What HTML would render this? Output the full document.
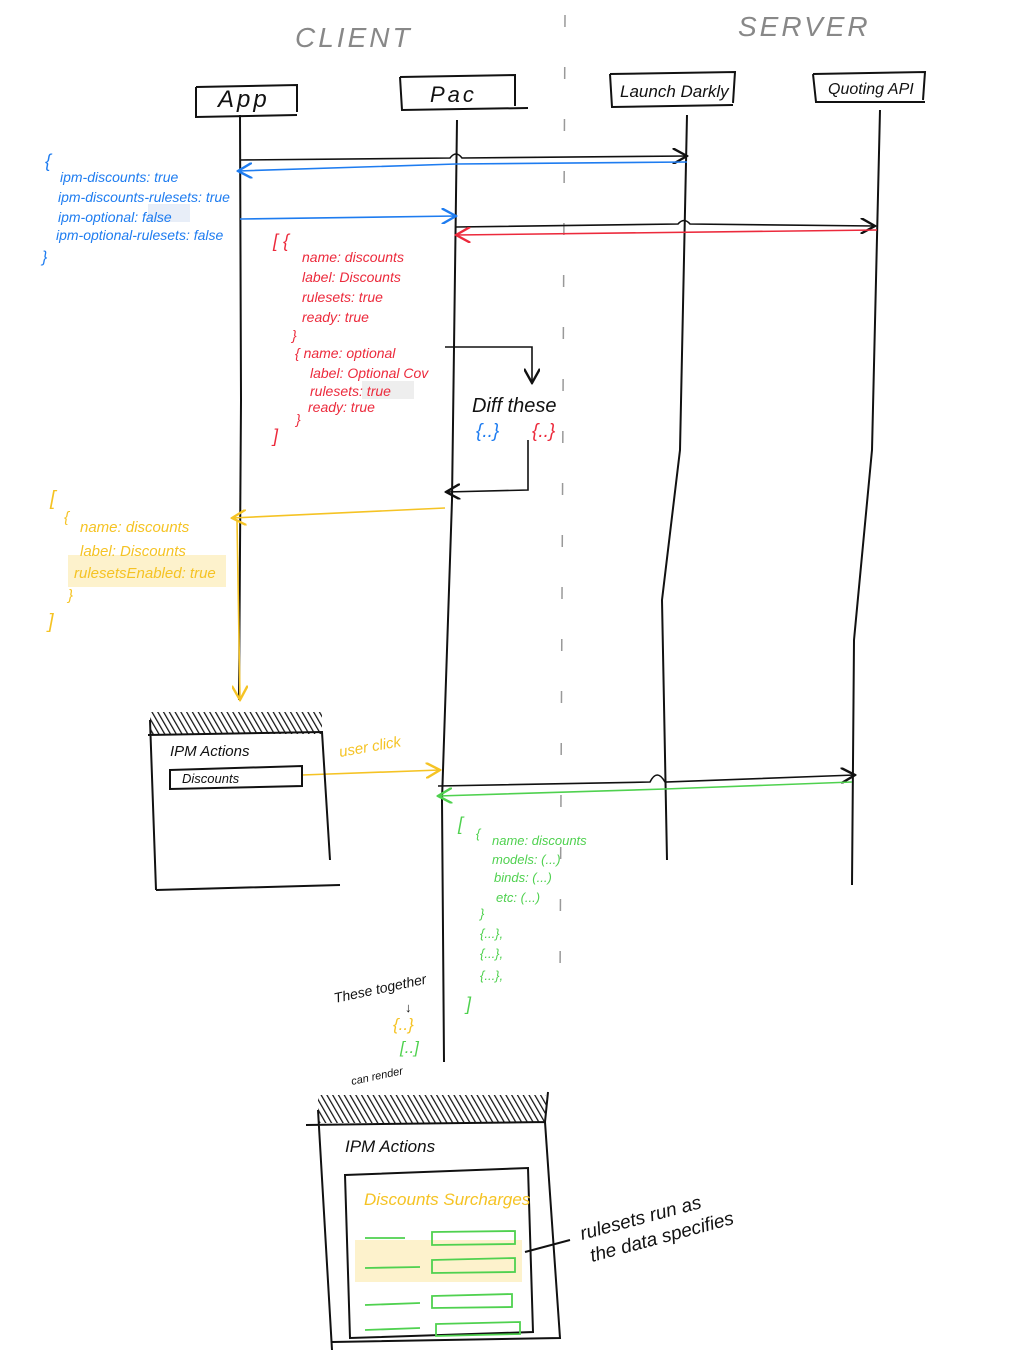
<!DOCTYPE html>
<html><head><meta charset="utf-8"><style>
html,body{margin:0;padding:0;background:#fff;width:1016px;height:1366px;overflow:hidden}
svg{display:block}
text{font-family:"Liberation Sans",sans-serif;font-style:italic}
.k{fill:#111}.b{fill:#1e7cf0}.r{fill:#ec2a3c}.y{fill:#f5c324}.g{fill:#4fd14f}
</style></head><body>
<svg width="1016" height="1366" viewBox="0 0 1016 1366" xmlns="http://www.w3.org/2000/svg">
<defs>
<marker id="ak" markerWidth="10" markerHeight="10" refX="9" refY="5" orient="auto"><path d="M0,0 L9,5 L0,10" fill="none" stroke="#111" stroke-width="1.5"/></marker>
<marker id="ab" markerWidth="10" markerHeight="10" refX="9" refY="5" orient="auto"><path d="M0,0 L9,5 L0,10" fill="none" stroke="#1e7cf0" stroke-width="1.5"/></marker>
<marker id="ar" markerWidth="10" markerHeight="10" refX="9" refY="5" orient="auto"><path d="M0,0 L9,5 L0,10" fill="none" stroke="#ec2a3c" stroke-width="1.5"/></marker>
<marker id="ay" markerWidth="10" markerHeight="10" refX="9" refY="5" orient="auto"><path d="M0,0 L9,5 L0,10" fill="none" stroke="#f5c324" stroke-width="1.5"/></marker>
<marker id="ag" markerWidth="10" markerHeight="10" refX="9" refY="5" orient="auto"><path d="M0,0 L9,5 L0,10" fill="none" stroke="#4fd14f" stroke-width="1.5"/></marker>
<pattern id="hatch" width="5" height="5" patternUnits="userSpaceOnUse" patternTransform="rotate(-30)"><line x1="0" y1="0" x2="0" y2="5" stroke="#111" stroke-width="2.5"/></pattern>
</defs>
<rect width="1016" height="1366" fill="#fff"/>
<text x="295" y="47" font-size="28" fill="#888" font-style="normal" letter-spacing="3">CLIENT</text>
<text x="738" y="36" font-size="28" fill="#888" font-style="normal" letter-spacing="3">SERVER</text>
<line x1="565" y1="15" x2="560" y2="985" stroke="#999" stroke-width="1.5" stroke-dasharray="12,40"/>
<g fill="none" stroke="#111" stroke-width="2">
<path d="M196,87 L297,85 L297,112 M196,87 L196,117 L297,115"/>
<path d="M400,77 L515,75 L515,106 M400,77 L402,110 L528,108"/>
<path d="M610,74 L735,72 L733,103 M610,74 L612,107 L733,105"/>
<path d="M813,74 L925,72 L923,100 M813,74 L816,102 L925,102"/>
<path d="M240,115 L241,400 L239,700"/>
<path d="M457,120 L452,500 L442,800 L444,1062"/>
<path d="M687,115 L680,450 L662,600 L667,860"/>
<path d="M880,110 L872,450 L854,640 L852,885"/>
</g>
<text x="218" y="107" font-size="24" class="k" font-style="normal" letter-spacing="3">App</text>
<text x="430" y="102" font-size="22" class="k" font-style="normal" letter-spacing="3">Pac</text>
<text x="620" y="97" font-size="17" class="k">Launch Darkly</text>
<text x="828" y="94" font-size="16" class="k">Quoting API</text>
<g fill="none" stroke-width="1.6">
<path d="M240,160 L450,158 Q456,150 462,158 L687,156" stroke="#111" marker-end="url(#ak)"/>
<path d="M687,162 L456,164 L238,171" stroke="#1e7cf0" marker-end="url(#ab)"/>
<path d="M240,219 L456,216" stroke="#1e7cf0" marker-end="url(#ab)"/>
<path d="M456,227 L678,224 Q684,217 690,224 L875,226" stroke="#111" marker-end="url(#ak)"/>
<path d="M877,230 L456,235" stroke="#ec2a3c" marker-end="url(#ar)"/>
<path d="M445,347 L532,347 L532,383" stroke="#111" marker-end="url(#ak)"/>
<path d="M528,440 L528,490 L446,492" stroke="#111" marker-end="url(#ak)"/>
<path d="M445,508 L232,518" stroke="#f5c324" marker-end="url(#ay)"/>
<path d="M237,520 L240,700" stroke="#f5c324" marker-end="url(#ay)"/>
<path d="M302,775 L440,770" stroke="#f5c324" marker-end="url(#ay)"/>
<path d="M438,786 L650,782 Q657,768 665,782 L855,775" stroke="#111" marker-end="url(#ak)"/>
<path d="M852,782 L665,789 L438,796" stroke="#4fd14f" marker-end="url(#ag)"/>
</g>
<g font-size="14" class="b">
<text x="45" y="167" font-size="18">{</text>
<text x="60" y="182">ipm-discounts: true</text>
<rect x="148" y="204" width="42" height="18" fill="#e8eef8"/>
<text x="58" y="202">ipm-discounts-rulesets: true</text>
<text x="58" y="222">ipm-optional: false</text>
<text x="56" y="240">ipm-optional-rulesets: false</text>
<text x="42" y="262" font-size="16">}</text>
</g>
<g font-size="14" class="r">
<text x="273" y="247" font-size="18">[ {</text>
<text x="302" y="262">name: discounts</text>
<text x="302" y="282">label: Discounts</text>
<text x="302" y="302">rulesets: true</text>
<text x="302" y="322">ready: true</text>
<text x="292" y="340">}</text>
<text x="295" y="358">{ name: optional</text>
<text x="310" y="378">label: Optional Cov</text>
<rect x="362" y="381" width="52" height="18" fill="#eee"/>
<text x="310" y="396">rulesets: true</text>
<text x="308" y="412">ready: true</text>
<text x="296" y="424">}</text>
<text x="273" y="442" font-size="18">]</text>
</g>
<text x="472" y="412" font-size="20" class="k">Diff these</text>
<text x="476" y="437" font-size="19" class="b">{..}</text>
<text x="532" y="437" font-size="19" class="r">{..}</text>
<rect x="68" y="555" width="158" height="32" fill="#fdf2cc"/>
<g font-size="15" class="y">
<text x="50" y="505" font-size="20">[</text>
<text x="64" y="522">{</text>
<text x="80" y="532">name: discounts</text>
<text x="80" y="556">label: Discounts</text>
<text x="74" y="578">rulesetsEnabled: true</text>
<text x="68" y="600">}</text>
<text x="48" y="628" font-size="20">]</text>
<text x="340" y="757" transform="rotate(-10 340 757)">user click</text>
</g>
<rect x="150" y="712" width="172" height="22" fill="url(#hatch)"/>
<g fill="none" stroke="#111" stroke-width="2">
<path d="M150,720 L156,890 M148,735 L322,732 L330,860 M156,890 L340,885"/>
<path d="M170,770 L302,766 L302,786 L170,789 Z"/>
</g>
<text x="170" y="756" font-size="15" class="k" font-style="normal">IPM Actions</text>
<text x="182" y="783" font-size="13" class="k">Discounts</text>
<g font-size="13" class="g">
<text x="458" y="830" font-size="18">[</text>
<text x="476" y="838">{</text>
<text x="492" y="845">name: discounts</text>
<text x="492" y="864">models: (...)</text>
<text x="494" y="882">binds: (...)</text>
<text x="496" y="902">etc: (...)</text>
<text x="480" y="918">}</text>
<text x="480" y="938">{...},</text>
<text x="480" y="958">{...},</text>
<text x="480" y="980">{...},</text>
<text x="466" y="1010" font-size="18">]</text>
</g>
<text x="335" y="1003" font-size="14" class="k" transform="rotate(-12 335 1003)">These together</text>
<text x="405" y="1012" font-size="13" class="k">↓</text>
<text x="393" y="1030" font-size="17" class="y">{..}</text>
<text x="400" y="1053" font-size="17" class="g">[..]</text>
<text x="352" y="1085" font-size="11" class="k" transform="rotate(-12 352 1085)">can render</text>
<rect x="318" y="1095" width="228" height="28" fill="url(#hatch)"/>
<g fill="none" stroke="#111" stroke-width="2">
<path d="M318,1110 L332,1350 M306,1125 L545,1122 L548,1092 M545,1122 L560,1338 L332,1342"/>
<path d="M345,1175 L528,1168 L533,1332 L350,1338 Z"/>
<path d="M525,1252 L570,1240"/>
</g>
<text x="345" y="1152" font-size="17" class="k" font-style="normal">IPM Actions</text>
<text x="364" y="1205" font-size="17" class="y">Discounts Surcharges</text>
<rect x="355" y="1240" width="167" height="42" fill="#fdf2cc"/>
<g fill="none" stroke="#4fd14f" stroke-width="1.8">
<path d="M365,1238 L405,1238 M432,1232 L515,1231 L515,1244 L432,1245 Z"/>
<path d="M365,1268 L420,1267 M432,1260 L515,1258 L515,1272 L432,1273 Z"/>
<path d="M365,1305 L420,1303 M432,1296 L512,1294 L512,1307 L432,1308 Z"/>
<path d="M365,1330 L420,1328 M436,1324 L520,1322 L520,1334 L436,1336 Z"/>
</g>
<text x="582" y="1240" font-size="19" class="k" transform="rotate(-15 582 1240)">rulesets run as</text>
<text x="592" y="1262" font-size="19" class="k" transform="rotate(-15 592 1262)">the data specifies</text>
</svg>
</body></html>
